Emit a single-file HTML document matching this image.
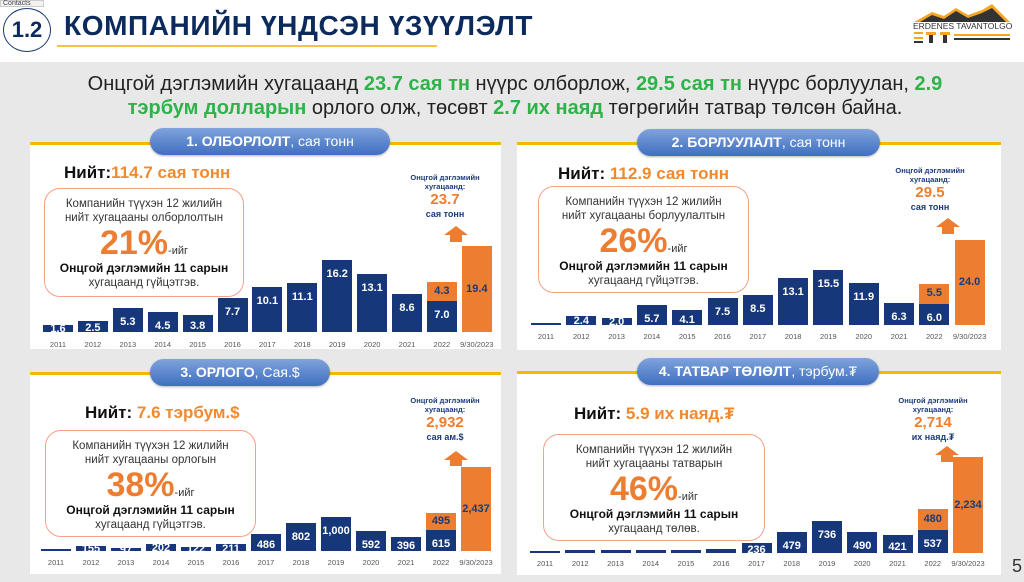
<!DOCTYPE html>
<html><head><meta charset="utf-8">
<style>
*{margin:0;padding:0;box-sizing:border-box}
body{width:1024px;height:582px;overflow:hidden;position:relative;background:#e8e8e8;font-family:"Liberation Sans","DejaVu Sans",sans-serif}
.a{position:absolute}
.hdr{left:0;top:0;width:1024px;height:62px;background:#fff}
.panel{background:#fff;border-top:3px solid #f5b800}
.pill{border-radius:14px;background:linear-gradient(#7fa3dc,#3f6fc0);color:#fff;font-size:14px;font-weight:bold;text-align:center;line-height:27px;box-shadow:0 1px 2px rgba(0,0,0,.3)}
.pill span{font-weight:normal}
.tot{font-size:17px;font-weight:bold;color:#111;white-space:nowrap}
.tot b{color:#f08a30}
.box{border:1.5px solid #f4a08a;border-radius:16px;text-align:center;color:#333;font-size:11.5px;line-height:14px;padding-top:8px;background:#fff}
.box .p{font-size:34px;font-weight:bold;color:#ed7d31;line-height:36px;height:36px}
.box .p small{font-size:11px;color:#333;font-weight:normal}
.box .bd{font-weight:bold;color:#111;font-size:12px;line-height:15px}
.ann{text-align:center;color:#1b3a78;font-size:7.5px;font-weight:bold;line-height:9px}
.ann .v{color:#ed7d31;font-size:15px;line-height:18px}
.ann .u{font-size:9px;line-height:11px}
.arr{width:0;height:0;border-left:12px solid transparent;border-right:12px solid transparent;border-bottom:9px solid #ed7d31}
.bar{background:#16387a;color:#fff;font-weight:bold;font-size:11px;text-align:center;overflow:hidden}
.or{background:#ed7d31;color:#1b3a78}
.yr{font-size:7.5px;color:#555;text-align:center;width:40px}
</style></head><body>
<div class="a hdr"></div>
<div class="a" style="left:0;top:0;width:44px;height:7px;background:#f2f2f2;border:1px solid #ccc;font-size:7px;color:#444;line-height:6px;padding-left:2px">Contacts</div>
<div class="a" style="left:3px;top:8px;width:48px;height:44px;border:1.5px solid #1b3a78;border-radius:50%;color:#0d2a5c;font-size:22px;font-weight:bold;text-align:center;line-height:42px">1.2</div>
<div class="a" style="left:64px;top:10px;font-size:28px;letter-spacing:0.6px;font-weight:bold;color:#0d2a5c;white-space:nowrap">КОМПАНИЙН ҮНДСЭН ҮЗҮҮЛЭЛТ</div>
<div class="a" style="left:57px;top:45px;width:380px;height:2px;background:#f5c242"></div>
<svg class="a" style="left:912px;top:2px" width="100" height="42">
<polygon points="2,20 20,10 32,14 44,6 56,13 70,8 80,2 98,20" fill="#f5a623"/>
<polygon points="8,20 20,13 32,17 44,9 56,16 70,11 80,6 94,20" fill="#333"/>
<text x="1" y="27" font-size="8.5" font-family="Liberation Sans" fill="#333">ERDENES TAVANTOLGOI</text>
<rect x="2" y="30" width="9" height="2" fill="#f5a623"/><rect x="2" y="35" width="9" height="2" fill="#f5a623"/><rect x="2" y="39" width="9" height="2" fill="#333"/>
<rect x="14" y="30" width="10" height="3" fill="#f5a623"/><rect x="17" y="33" width="4" height="8" fill="#333"/>
<rect x="28" y="30" width="10" height="3" fill="#f5a623"/><rect x="31" y="33" width="4" height="8" fill="#333"/>
<rect x="42" y="32" width="56" height="2" fill="#f5a623"/><rect x="42" y="36" width="56" height="2" fill="#333"/>
</svg>
<div class="a" style="left:0;top:72px;width:1030px;text-align:center;font-size:20px;line-height:24px;color:#222">Онцгой дэглэмийн хугацаанд <b style="color:#2eb34a">23.7 сая тн</b> нүүрс олборлож, <b style="color:#2eb34a">29.5 сая тн</b> нүүрс борлуулан, <b style="color:#2eb34a">2.9</b><br><b style="color:#2eb34a">тэрбум долларын</b> орлого олж, төсөвт <b style="color:#2eb34a">2.7 их наяд</b> төгрөгийн татвар төлсөн байна.</div>

<div class="a panel" style="left:30px;top:142px;width:471px;height:207px"></div>
<div class="a panel" style="left:517px;top:142px;width:484px;height:208px"></div>
<div class="a panel" style="left:30px;top:372px;width:471px;height:202px"></div>
<div class="a panel" style="left:517px;top:371px;width:484px;height:204px"></div>

<div class="a pill" style="left:150px;top:128px;width:240px">1. ОЛБОРЛОЛТ<span>, сая тонн</span></div>
<div class="a pill" style="left:637px;top:129px;width:243px">2. БОРЛУУЛАЛТ<span>, сая тонн</span></div>
<div class="a pill" style="left:150px;top:359px;width:180px">3. ОРЛОГО<span>, Сая.$</span></div>
<div class="a pill" style="left:637px;top:358px;width:242px">4. ТАТВАР ТӨЛӨЛТ<span>, тэрбум.₮</span></div>

<div class="a tot" style="left:64px;top:163px">Нийт:<b>114.7 сая тонн</b></div>
<div class="a tot" style="left:558px;top:164px">Нийт: <b>112.9 сая тонн</b></div>
<div class="a tot" style="left:85px;top:403px">Нийт: <b>7.6 тэрбум.$</b></div>
<div class="a tot" style="left:574px;top:404px">Нийт: <b>5.9 их наяд.₮</b></div>

<div class="a box" style="left:44px;top:188px;width:200px;height:109px">Компанийн түүхэн 12 жилийн<br>нийт хугацааны олборлолтын<div class="p">21%<small>-ийг</small></div><div class="bd">Онцгой дэглэмийн 11 сарын</div>хугацаанд гүйцэтгэв.</div>
<div class="a box" style="left:538px;top:186px;width:211px;height:107px">Компанийн түүхэн 12 жилийн<br>нийт хугацааны борлуулалтын<div class="p">26%<small>-ийг</small></div><div class="bd">Онцгой дэглэмийн 11 сарын</div>хугацаанд гүйцэтгэв.</div>
<div class="a box" style="left:45px;top:430px;width:211px;height:107px">Компанийн түүхэн 12 жилийн<br>нийт хугацааны орлогын<div class="p">38%<small>-ийг</small></div><div class="bd">Онцгой дэглэмийн 11 сарын</div>хугацаанд гүйцэтгэв.</div>
<div class="a box" style="left:543px;top:434px;width:222px;height:107px">Компанийн түүхэн 12 жилийн<br>нийт хугацааны татварын<div class="p">46%<small>-ийг</small></div><div class="bd">Онцгой дэглэмийн 11 сарын</div>хугацаанд төлөв.</div>

<div class="a ann" style="left:405px;top:173px;width:80px">Онцгой дэглэмийн<br>хугацаанд:<div class="v">23.7</div><div class="u">сая тонн</div></div>
<div class="a ann" style="left:890px;top:166px;width:80px">Онцгой дэглэмийн<br>хугацаанд:<div class="v">29.5</div><div class="u">сая тонн</div></div>
<div class="a ann" style="left:405px;top:396px;width:80px">Онцгой дэглэмийн<br>хугацаанд:<div class="v">2,932</div><div class="u">сая ам.$</div></div>
<div class="a ann" style="left:893px;top:396px;width:80px">Онцгой дэглэмийн<br>хугацаанд:<div class="v">2,714</div><div class="u">их наяд.₮</div></div>

<div class="a arr" style="left:444px;top:226px"></div><div class="a" style="left:450px;top:235px;width:12px;height:7px;background:#ed7d31"></div>
<div class="a arr" style="left:936px;top:218px"></div><div class="a" style="left:942px;top:227px;width:12px;height:7px;background:#ed7d31"></div>
<div class="a arr" style="left:444px;top:451px"></div><div class="a" style="left:450px;top:460px;width:12px;height:6px;background:#ed7d31"></div>
<div class="a arr" style="left:935px;top:446px"></div><div class="a" style="left:941px;top:455px;width:12px;height:7px;background:#ed7d31"></div>

<div class="a" style="left:1012px;top:556px;font-size:18px;color:#333">5</div>
<div id="c"></div>
<script>
var yrs=["2011","2012","2013","2014","2015","2016","2017","2018","2019","2020","2021","2022","9/30/2023"];
var P=[
 {x0:58,dx:34.9,base:332,ly:340,s:4.45,w:30,v:[1.5,2.5,5.3,4.5,3.8,7.7,10.1,11.1,16.2,13.1,8.6,7.0,19.4],o:4.3,l:["1.6","2.5","5.3","4.5","3.8","7.7","10.1","11.1","16.2","13.1","8.6","7.0","19.4"],ol:"4.3"},
 {x0:546,dx:35.3,base:325,ly:332,s:3.55,w:30,v:[0.6,2.4,2.0,5.7,4.1,7.5,8.5,13.1,15.5,11.9,6.3,6.0,24.0],o:5.5,l:["","2.4","2.0","5.7","4.1","7.5","8.5","13.1","15.5","11.9","6.3","6.0","24.0"],ol:"5.5"},
 {x0:56,dx:35,base:551,ly:558,s:0.0345,w:30,v:[60,155,97,202,122,211,486,802,1000,592,396,615,2437],o:495,l:["","155","97","202","122","211","486","802","1,000","592","396","615","2,437"],ol:"495"},
 {x0:545,dx:35.25,base:553,ly:559,s:0.043,w:30,v:[20,60,60,80,60,90,236,479,736,490,421,537,2234],o:480,l:["","","","","","","236","479","736","490","421","537","2,234"],ol:"480"}
];
var h="";
P.forEach(function(p){
 for(var i=0;i<13;i++){
  var cx=p.x0+i*p.dx, hh=Math.max(2,p.v[i]*p.s), t=p.base-hh, cls=i==12?"bar or":"bar";
  h+='<div class="a '+cls+'" style="left:'+(cx-p.w/2)+'px;top:'+t+'px;width:'+p.w+'px;height:'+hh+'px;line-height:'+Math.min(hh*1.4,28)+'px;'+(i==12?'line-height:'+hh+'px':'')+'">'+p.l[i]+'</div>';
  if(i==11){var oh=p.o*p.s;h+='<div class="a bar or" style="left:'+(cx-p.w/2)+'px;top:'+(t-oh)+'px;width:'+p.w+'px;height:'+oh+'px;line-height:'+oh+'px">'+p.ol+'</div>';}
  h+='<div class="a yr" style="left:'+(cx-20)+'px;top:'+p.ly+'px">'+yrs[i]+'</div>';
 }
});
document.getElementById("c").innerHTML=h;
</script>
</body></html>
